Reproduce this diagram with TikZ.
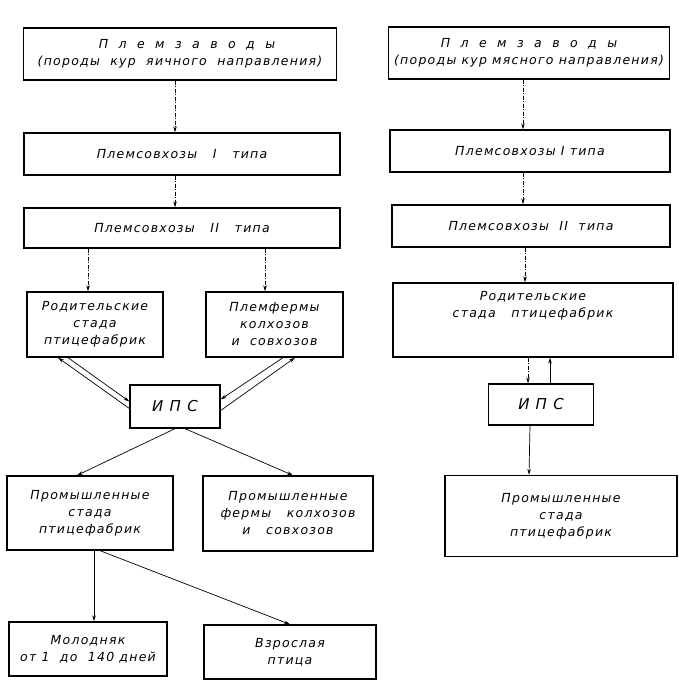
\documentclass[tikz,border=0pt]{standalone}
\usepackage{fontspec}
\setmainfont{DejaVu Sans}[LetterSpace=10]
\usepackage{tikz}
\usetikzlibrary{arrows.meta,calc}

\begin{document}
\begin{tikzpicture}[x=1pt,y=-1pt,->,>={Stealth[length=6pt,width=3.5pt]},line width=0.7pt,
  box/.style={draw=black,line width=1.3pt,align=center,inner sep=2pt,
    font=\fontsize{12.5}{17}\selectfont\itshape},
  ipsbox/.style={box,font=\fontsize{15}{17}\selectfont\itshape},
  dotline/.style={dash pattern=on 4pt off 1.5pt on 1pt off 1.5pt}]
\useasboundingbox (0,0) rectangle (679,683);
% left column
\node[box,minimum width=313,minimum height=52] (1) at (180,54) {\hspace*{14pt}П~ л~ е~ м~ з~ а~ в~ о~ д~ ы\\(породы~ кур~ яичного~ направления)};
\node[box,minimum width=316,minimum height=42] (2) at (182,154) {Племсовхозы~~ I~~ типа};
\node[box,minimum width=316,minimum height=40] (3) at (182,228) {Племсовхозы~~ II~~ типа};
\node[box,minimum width=136,minimum height=65] (4) at (95,324.5) {Родительские\\стада\\птицефабрик};
\node[box,minimum width=137,minimum height=65] (5) at (274.5,324.5) {Племфермы\\колхозов\\и~ совхозов};
\node[ipsbox,minimum width=90,minimum height=43] (6) at (175,406.5) {И П С};
\node[box,minimum width=166,minimum height=74] (7) at (90,513) {Промышленные\\стада\\птицефабрик};
\node[box,minimum width=170,minimum height=75] (8) at (288,513.5) {Промышленные\\фермы~~ колхозов\\и~~ совхозов};
\node[box,minimum width=158,minimum height=54] (9) at (88,649) {Молодняк\\от 1~ до~ 140 дней};
\node[box,minimum width=172,minimum height=54] (10) at (290,652) {Взрослая\\птица};
% right column
\node[box,minimum width=281,minimum height=52] (11) at (529,53) {П~ л~ е~ м~ з~ а~ в~ о~ д~ ы\\(породы кур мясного направления)};
\node[box,minimum width=280,minimum height=42] (12) at (530,151) {Племсовхозы I типа};
\node[box,minimum width=278,minimum height=42] (13) at (531,226) {Племсовхозы~ II~ типа};
\node[box,minimum width=280,minimum height=74] (14) at (533,320) {Родительские\\стада~~ птицефабрик\\[14pt]};
\node[ipsbox,minimum width=105,minimum height=41] (15) at (541,404.5) {И П С};
\node[box,minimum width=232,minimum height=81] (16) at (561,516) {Промышленные\\стада\\птицефабрик};
% left arrows
\path ([xshift=-5]1.south) edge[dotline] ([xshift=-7]2.north);
\path ([xshift=-7]2.south) edge[dotline] ([xshift=-7]3.north);
\path ($(3.south -| 4.north)+(-7,0)$) edge[dotline] ([xshift=-7]4.north);
\path ($(3.south -| 5.north)+(-9.5,0)$) edge[dotline] ([xshift=-9.5]5.north);
\path ([xshift=-27]4.south) edge ([yshift=5]6.west);
\path ([yshift=-2]6.west) edge ([xshift=-37]4.south);
\path ([xshift=8.5]5.south) edge ([yshift=7]6.east);
\path ([yshift=-4]6.east) edge ([xshift=20.5]5.south);
\path (6.south) edge ([xshift=-13]7.north);
\path ([xshift=10]6.south) edge ([xshift=5]8.north);
\path ([xshift=4]7.south) edge ([xshift=6]9.north);
\path ([xshift=10]7.south) edge (10.north);
% right arrows
\path ([xshift=-6]11.south) edge[dotline] ([xshift=-7]12.north);
\path ([xshift=-7]12.south) edge[dotline] ([xshift=-8]13.north);
\path ([xshift=-6]13.south) edge[dotline] ([xshift=-8]14.north);
\path ([xshift=-5]14.south) edge[dotline] ([xshift=-13]15.north);
\path ([xshift=9]15.north) edge ([xshift=17]14.south);
\path ([xshift=-11]15.south) edge ([xshift=-32]16.north);
\end{tikzpicture}
\end{document}
